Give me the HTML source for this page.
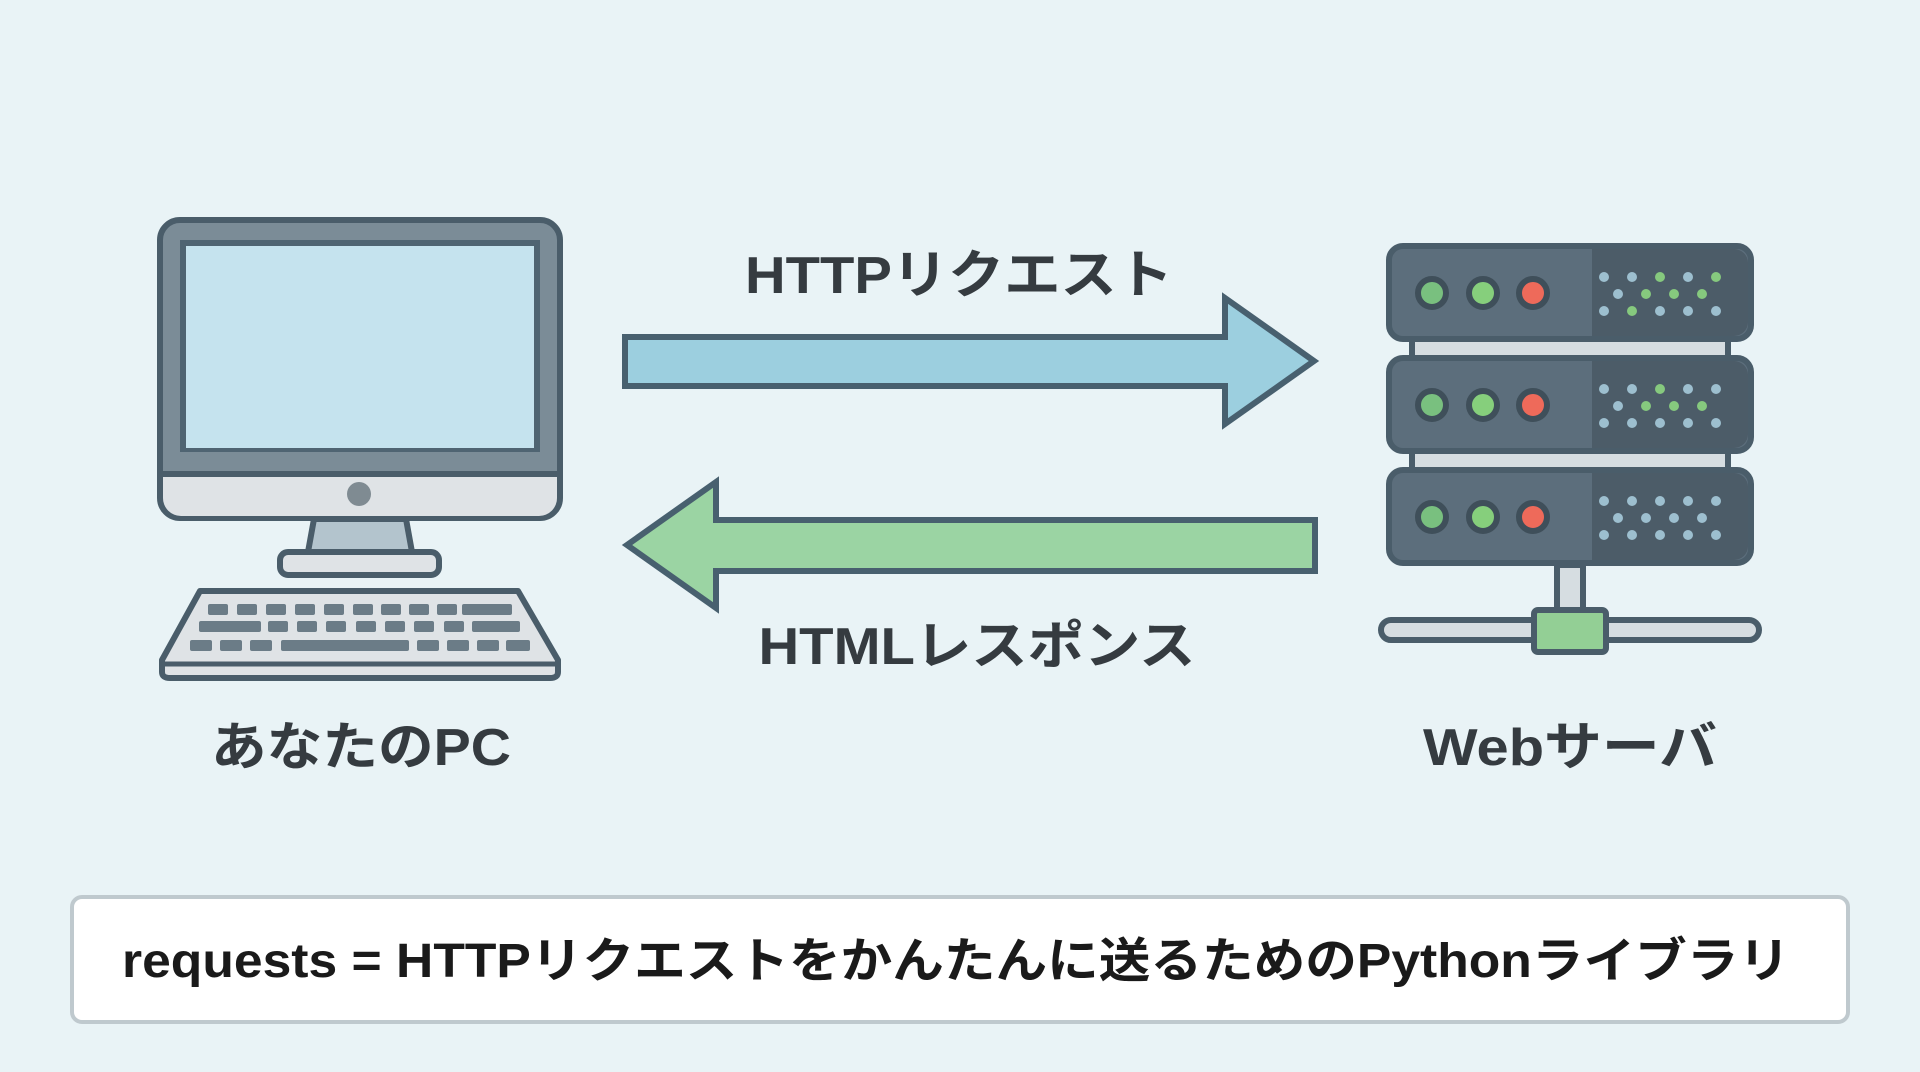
<!DOCTYPE html>
<html><head><meta charset="utf-8"><style>
html,body{margin:0;padding:0;background:#e9f3f6;}
svg{display:block}
text{font-family:"Liberation Sans","Noto Sans CJK JP",sans-serif;font-weight:bold;}
</style></head><body>
<svg width="1920" height="1072" viewBox="0 0 1920 1072" xmlns="http://www.w3.org/2000/svg">
<rect width="1920" height="1072" fill="#e9f3f6"/>
<!-- Monitor -->
<rect x="160" y="220" width="400" height="298" rx="20" fill="#7b8c97" stroke="#4a5d6a" stroke-width="6"/>
<path d="M163 474 H557 V498 a18 18 0 0 1 -18 18 H181 a18 18 0 0 1 -18 -18 Z" fill="#dfe3e6"/>
<line x1="163" y1="474" x2="557" y2="474" stroke="#4a5d6a" stroke-width="6"/>
<rect x="180" y="240" width="360" height="212" fill="#4f6472"/>
<rect x="186" y="246" width="348" height="202" fill="#c5e3ee"/>
<circle cx="359" cy="494" r="12" fill="#7f8b92"/>
<path d="M314 519 L406 519 L412 552 L308 552 Z" fill="#b3c4cd" stroke="#4a5d6a" stroke-width="6"/>
<rect x="280" y="552" width="159" height="23" rx="8" fill="#dfe3e6" stroke="#4a5d6a" stroke-width="6"/>
<!-- Keyboard -->
<path d="M200 591 L518 591 L558 660 L558 672 Q558 678 550 678 L170 678 Q162 678 162 672 L162 660 Z" fill="#dfe3e6" stroke="#4a5d6a" stroke-width="6" stroke-linejoin="round"/>
<line x1="164" y1="664" x2="556" y2="664" stroke="#4a5d6a" stroke-width="5"/>
<g fill="#6b7c87">
<rect x="208" y="604" width="20" height="11" rx="2"/><rect x="237" y="604" width="20" height="11" rx="2"/><rect x="266" y="604" width="20" height="11" rx="2"/><rect x="295" y="604" width="20" height="11" rx="2"/><rect x="324" y="604" width="20" height="11" rx="2"/><rect x="353" y="604" width="20" height="11" rx="2"/><rect x="381" y="604" width="20" height="11" rx="2"/><rect x="409" y="604" width="20" height="11" rx="2"/><rect x="437" y="604" width="20" height="11" rx="2"/><rect x="462" y="604" width="50" height="11" rx="2"/>
<rect x="199" y="621" width="62" height="11" rx="2"/><rect x="268" y="621" width="20" height="11" rx="2"/><rect x="297" y="621" width="20" height="11" rx="2"/><rect x="326" y="621" width="20" height="11" rx="2"/><rect x="356" y="621" width="20" height="11" rx="2"/><rect x="385" y="621" width="20" height="11" rx="2"/><rect x="414" y="621" width="20" height="11" rx="2"/><rect x="444" y="621" width="20" height="11" rx="2"/><rect x="472" y="621" width="48" height="11" rx="2"/>
<rect x="190" y="640" width="22" height="11" rx="2"/><rect x="220" y="640" width="22" height="11" rx="2"/><rect x="250" y="640" width="22" height="11" rx="2"/><rect x="281" y="640" width="128" height="11" rx="2"/><rect x="417" y="640" width="22" height="11" rx="2"/><rect x="447" y="640" width="22" height="11" rx="2"/><rect x="477" y="640" width="22" height="11" rx="2"/><rect x="506" y="640" width="24" height="11" rx="2"/>
</g>
<!-- Server -->
<g stroke="#4a5d6a" stroke-width="6">
<rect x="1412" y="338" width="316" height="20" fill="#d6dde1"/>
<rect x="1412" y="450" width="316" height="20" fill="#d6dde1"/>
<rect x="1557" y="565" width="26" height="50" fill="#d6dde1"/>
<rect x="1381" y="620" width="378" height="20" rx="10" fill="#d6dde1"/>
<rect x="1534" y="610" width="72" height="42" rx="4" fill="#93cf95"/>
</g>
<g>
<g id="u1">
<rect x="1389" y="246" width="362" height="93" rx="14" fill="#5c6e7c" stroke="#4a5d6a" stroke-width="6"/>
<path d="M1592 249 H1734 a14 14 0 0 1 14 14 V322 a14 14 0 0 1 -14 14 H1592 Z" fill="#4c5c68"/>
</g>
<rect x="1389" y="358" width="362" height="93" rx="14" fill="#5c6e7c" stroke="#4a5d6a" stroke-width="6"/>
<path d="M1592 361 H1734 a14 14 0 0 1 14 14 V434 a14 14 0 0 1 -14 14 H1592 Z" fill="#4c5c68"/>
<rect x="1389" y="470" width="362" height="93" rx="14" fill="#5c6e7c" stroke="#4a5d6a" stroke-width="6"/>
<path d="M1592 473 H1734 a14 14 0 0 1 14 14 V546 a14 14 0 0 1 -14 14 H1592 Z" fill="#4c5c68"/>
</g>
<g stroke="#3f4f5a" stroke-width="6">
<circle cx="1432" cy="293" r="14" fill="#79c07f"/><circle cx="1483" cy="293" r="14" fill="#86cf7c"/><circle cx="1533" cy="293" r="14" fill="#ee6a5a"/>
<circle cx="1432" cy="405" r="14" fill="#79c07f"/><circle cx="1483" cy="405" r="14" fill="#86cf7c"/><circle cx="1533" cy="405" r="14" fill="#ee6a5a"/>
<circle cx="1432" cy="517" r="14" fill="#79c07f"/><circle cx="1483" cy="517" r="14" fill="#86cf7c"/><circle cx="1533" cy="517" r="14" fill="#ee6a5a"/>
</g>
<g fill="#9dbfcf">
<circle cx="1604" cy="277" r="5"/><circle cx="1632" cy="277" r="5"/><circle cx="1660" cy="277" r="5" fill="#86c97e"/><circle cx="1688" cy="277" r="5"/><circle cx="1716" cy="277" r="5" fill="#86c97e"/>
<circle cx="1618" cy="294" r="5"/><circle cx="1646" cy="294" r="5" fill="#86c97e"/><circle cx="1674" cy="294" r="5" fill="#86c97e"/><circle cx="1702" cy="294" r="5" fill="#86c97e"/>
<circle cx="1604" cy="311" r="5"/><circle cx="1632" cy="311" r="5" fill="#86c97e"/><circle cx="1660" cy="311" r="5"/><circle cx="1688" cy="311" r="5"/><circle cx="1716" cy="311" r="5"/>
<circle cx="1604" cy="389" r="5"/><circle cx="1632" cy="389" r="5"/><circle cx="1660" cy="389" r="5" fill="#86c97e"/><circle cx="1688" cy="389" r="5"/><circle cx="1716" cy="389" r="5"/>
<circle cx="1618" cy="406" r="5"/><circle cx="1646" cy="406" r="5" fill="#86c97e"/><circle cx="1674" cy="406" r="5" fill="#86c97e"/><circle cx="1702" cy="406" r="5" fill="#86c97e"/>
<circle cx="1604" cy="423" r="5"/><circle cx="1632" cy="423" r="5"/><circle cx="1660" cy="423" r="5"/><circle cx="1688" cy="423" r="5"/><circle cx="1716" cy="423" r="5"/>
<circle cx="1604" cy="501" r="5"/><circle cx="1632" cy="501" r="5"/><circle cx="1660" cy="501" r="5"/><circle cx="1688" cy="501" r="5"/><circle cx="1716" cy="501" r="5"/>
<circle cx="1618" cy="518" r="5"/><circle cx="1646" cy="518" r="5"/><circle cx="1674" cy="518" r="5"/><circle cx="1702" cy="518" r="5"/>
<circle cx="1604" cy="535" r="5"/><circle cx="1632" cy="535" r="5"/><circle cx="1660" cy="535" r="5"/><circle cx="1688" cy="535" r="5"/><circle cx="1716" cy="535" r="5"/>
</g>
<!-- Arrows -->
<path d="M625 337 H1225 V298 L1314 361 L1225 424 V386 H625 Z" fill="#9ccfdf" stroke="#48606f" stroke-width="6" stroke-linejoin="miter"/>
<path d="M1315 520 H716 V482 L627 545 L716 608 V571 H1315 Z" fill="#9bd4a3" stroke="#48606f" stroke-width="6"/>
<!-- Labels -->
<g fill="#353b40" font-size="52">
<text x="959" y="293" text-anchor="middle" textLength="428" lengthAdjust="spacingAndGlyphs">HTTPリクエスト</text>
<text x="977" y="664" text-anchor="middle" textLength="437" lengthAdjust="spacingAndGlyphs">HTMLレスポンス</text>
<text x="361" y="765" text-anchor="middle" textLength="300" lengthAdjust="spacingAndGlyphs">あなたのPC</text>
<text x="1570" y="765" text-anchor="middle" textLength="294" lengthAdjust="spacingAndGlyphs">Webサーバ</text>
</g>
<!-- Bottom box -->
<rect x="72" y="897" width="1776" height="125" rx="10" fill="#ffffff" stroke="#bfc9ce" stroke-width="4"/>
<text x="956" y="977" text-anchor="middle" font-size="48" fill="#1a1a1a" textLength="1668" lengthAdjust="spacingAndGlyphs">requests = HTTPリクエストをかんたんに送るためのPythonライブラリ</text>
</svg>
</body></html>
